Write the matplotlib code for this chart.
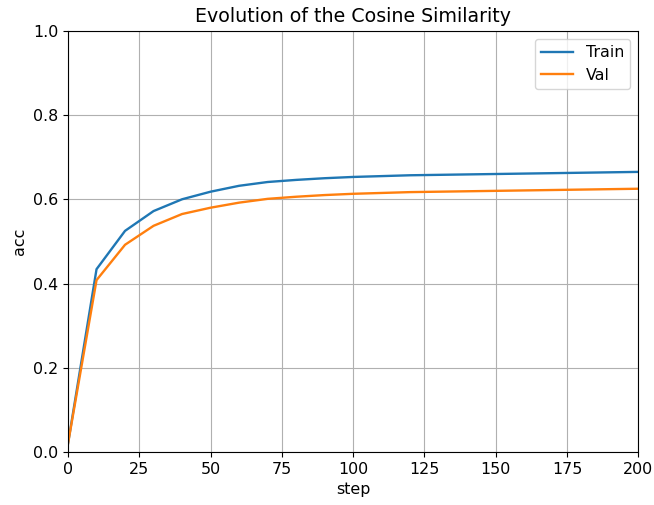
import matplotlib
matplotlib.use("Agg")
import matplotlib.pyplot as plt

plt.rcParams["font.size"] = 11.4

# steps and accuracy
steps = [0, 10, 20, 30, 40, 50, 60, 70, 80, 90, 100, 110, 120, 130, 140, 150, 160, 170, 180, 190, 200]
train = [0.02, 0.434, 0.525, 0.572, 0.600, 0.618, 0.632, 0.641, 0.646, 0.650, 0.653,
         0.655, 0.657, 0.658, 0.659, 0.660, 0.661, 0.662, 0.663, 0.664, 0.665]
val = [0.02, 0.408, 0.492, 0.537, 0.565, 0.580, 0.592, 0.601, 0.606, 0.610, 0.613,
       0.615, 0.617, 0.618, 0.619, 0.620, 0.621, 0.622, 0.623, 0.624, 0.625]

fig = plt.figure(figsize=(6.54, 5.05), dpi=100)
ax = fig.add_axes([0.104, 0.105, 0.872, 0.834])
ax.plot(steps, train, label="Train", lw=1.7)
ax.plot(steps, val, label="Val", lw=1.7)
ax.set_xlim(0, 200)
ax.set_ylim(0, 1)
ax.grid(True)
ax.set_xlabel("step")
ax.set_ylabel("acc")
ax.set_title("Evolution of the Cosine Similarity")
ax.legend(loc="upper right")
plt.savefig("out.png")
